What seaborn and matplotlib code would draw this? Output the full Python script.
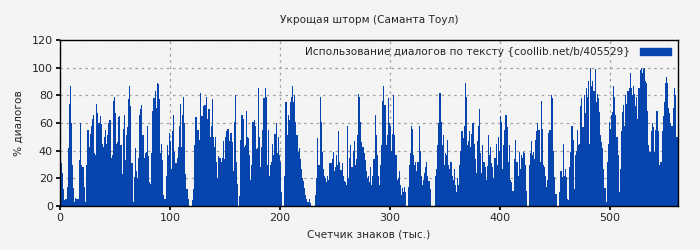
import numpy as np
import pandas as pd
import matplotlib
matplotlib.use("Agg")
import matplotlib.pyplot as plt
import seaborn as sns
from matplotlib.patches import Patch

title = "Укрощая шторм (Саманта Тоул)"
x_label = "Счетчик знаков (тыс.)"
y_label = "% диалогов"
series_label = "Использование диалогов по тексту {coollib.net/b/405529}"
x_ticks = [0, 100, 200, 300, 400, 500]
y_ticks = [0, 20, 40, 60, 80, 100, 120]

seg_a = [18, 31, 24, 12, 4, 5, 14, 42, 74, 87, 60, 30, 13, 3, 6, 5, 5, 33, 60, 30,
         28, 28, 14, 3, 30, 55, 43, 52, 58, 63, 66, 38, 37, 74, 67, 60, 65, 59, 45, 43,
         50, 55, 45, 51, 60, 62, 35, 37, 76, 79, 67, 45, 46, 64, 65, 44, 23, 56, 66, 33,
         51, 57, 77, 87, 72, 31, 3, 21, 42, 25, 20, 35, 66, 70, 73, 51, 35, 38, 39, 58,
         36, 17, 16, 38, 69, 78, 83, 71, 89, 88, 77, 38, 45, 33, 8, 5]
seg_b = [22, 44, 37, 53, 47, 27, 54, 66, 39, 31, 35, 43, 58, 74, 43, 66, 79, 60, 23, 12,
         5, 0, 0, 0]
seg_c = [4, 12, 44, 64, 64, 55, 48, 82, 65, 65, 72, 73, 73, 79, 63, 70, 50, 58, 77, 50,
         43, 50, 32, 20, 36, 35, 32, 35, 47, 34, 50, 54, 56, 56, 47, 53, 46, 25, 61, 80,
         32, 16, 0]
seg_d = [7, 48, 66, 63, 43, 44, 69, 50, 49, 37, 19, 30, 61, 62, 58, 41, 42, 85, 50, 28,
         43, 55, 78, 85, 79, 30, 55, 22, 30]
seg_e = [32, 45, 37, 52, 60, 38, 50, 37, 32, 10, 0, 0]
seg_f = [22, 75, 51, 66, 62, 75, 79, 87, 75, 80, 61, 51, 39, 42, 34, 27, 20, 18, 13, 8,
         5, 3, 5, 2, 0, 0, 0, 0]
seg_g = [8, 20, 49, 30, 79, 61, 39, 27, 22, 20, 17, 22, 19, 31,
         31, 34, 39, 25, 28, 37, 30, 54, 32, 26, 31, 22, 18, 17, 15, 58, 20, 35, 44, 28,
         40, 47, 30, 34, 51, 81, 79, 61, 46, 43, 38, 33, 25, 20, 22, 17, 28, 15, 22, 34,
         66]
seg_h = [51, 37, 22, 15, 30, 44, 76, 87, 73, 44, 51, 78, 60, 58, 40, 52, 80, 51, 37, 19,
         20, 25, 15, 8, 13, 10, 14, 10, 0]
seg_i = [14, 30, 38, 58, 56, 37, 30, 32, 25, 32, 58, 40, 22, 15, 19, 24, 28, 32, 22, 18,
         12, 0, 0, 0, 0]
seg_j = [22, 27, 44, 60, 82, 61, 44, 51, 30, 38, 37, 48, 30, 27, 32, 22, 19, 27, 15, 10,
         20, 15]
seg_k = [30, 40, 54, 49, 58, 89, 79, 44, 47, 54, 43, 52, 60, 45, 34, 24, 47, 58, 70, 38]
seg_l = [24, 44, 32, 28, 19, 29, 51, 37, 43, 31, 28, 20, 35, 45, 30, 50, 40]
seg_m = [65, 61, 27, 44, 55, 66, 57, 32, 44, 19, 17, 11, 11, 34, 48, 32, 22, 39, 27, 37,
         35, 39, 38, 30, 11, 0]
seg_n = [30, 38, 47, 37, 39, 34, 48, 54, 60, 55, 32, 76, 56, 30, 28,
         22, 14, 19, 53, 55, 80, 78, 40, 21, 9, 9, 0, 0,
         10, 25, 21, 45, 22, 27, 21, 5]
seg_o = [4, 28, 39, 58, 48, 12, 37, 40, 55, 44, 45,
         72, 78, 57, 80, 67, 85, 79, 90, 45]
seg_p = [100, 87, 90, 83, 99, 75, 81, 78, 68, 51, 46, 42, 27, 13, 3,
         32, 45, 61, 56, 66, 68, 87, 79, 66, 50, 37, 10,
         27, 54, 68, 73, 58, 80, 74, 83, 85, 96, 85]
seg_q = [80, 87, 81, 72, 79, 63, 85, 98, 100, 96, 99, 100, 90, 89, 69, 44, 39, 54, 60, 57,
         39, 55, 69, 69, 54, 30, 32, 54, 65, 75, 89, 93, 89, 71, 67, 60, 58, 71, 85, 80,
         50, 50]

values = (seg_a + seg_b + seg_c + seg_d + seg_e + seg_f + seg_g + seg_h + seg_i +
          seg_j + seg_k + seg_l + seg_m + seg_n + seg_o + seg_p + seg_q)
counter = list(range(len(values)))

df = pd.DataFrame({"k": counter, "pct": values})

bg = "#f4f4f4"
bar_color = "#0645ad"

sns.set_theme(style="whitegrid")
plt.rcParams["font.family"] = ["DejaVu Sans"]

fig = plt.figure(figsize=(7, 2.5), dpi=100, facecolor=bg)
ax = fig.add_axes([0.0857, 0.176, 0.883, 0.664])
ax.set_facecolor(bg)

sns.histplot(data=df, x="k", weights="pct", binwidth=1, binrange=(0, len(values)),
             color=bar_color, alpha=1.0, linewidth=0, edgecolor=bar_color, ax=ax)

ax.set_xlim(0, len(values))
ax.set_ylim(0, 120)
ax.set_xticks(x_ticks)
ax.set_yticks(y_ticks)
ax.tick_params(axis="both", labelsize=8, length=3, color="black", direction="out",
               bottom=True, left=True, pad=2)
ax.grid(True, color="#a0a0a0", linestyle=(0, (2, 3)), linewidth=0.9)
ax.set_axisbelow(True)
for s in ax.spines.values():
    s.set_color("black")
    s.set_linewidth(1.0)
    s.set_visible(True)

ax.set_title(title, fontsize=7.6, pad=12)
ax.set_xlabel(x_label, fontsize=7.6, labelpad=5)
ax.set_ylabel(y_label, fontsize=7.6, labelpad=6)

handle = Patch(facecolor=bar_color, edgecolor=bar_color)
leg = ax.legend([handle], [series_label], loc="upper right", frameon=False, fontsize=7.6,
                handlelength=2.9, handleheight=0.65, borderaxespad=0.3,
                markerfirst=False, handletextpad=1.0)

fig.savefig("out.png", dpi=100, facecolor=bg)
